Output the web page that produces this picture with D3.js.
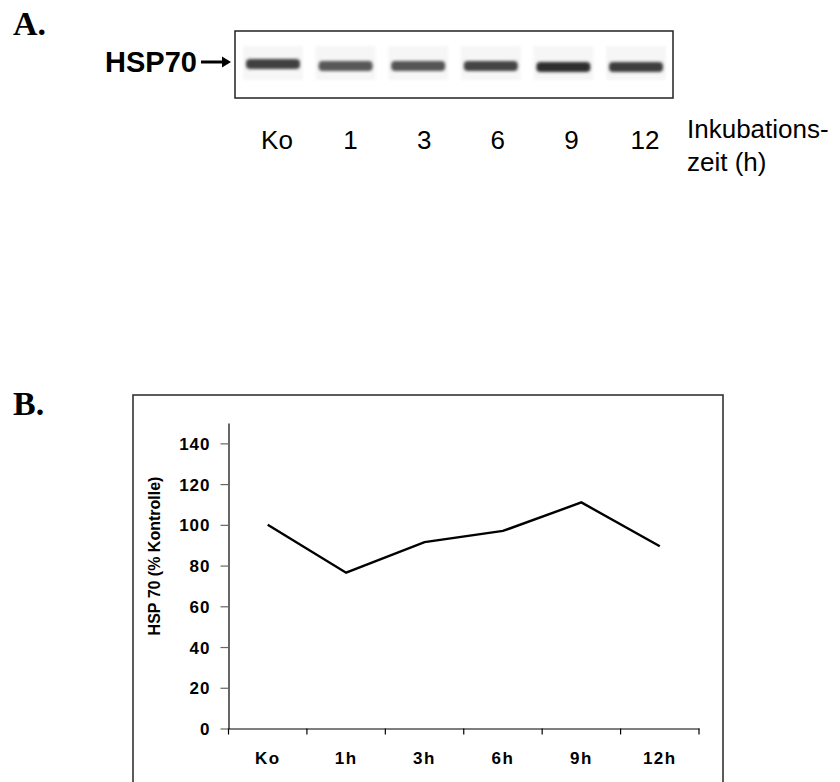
<!DOCTYPE html>
<html>
<head>
<meta charset="utf-8">
<script src="https://cdn.jsdelivr.net/npm/d3@7"></script>
<style>
  html, body { margin: 0; padding: 0; background: #fff; }
  svg { display: block; }
</style>
</head>
<body>
<svg id="chart" width="840" height="782"></svg>
<script>
// ---- Data ----
const blotLanes = ["Ko", "1", "3", "6", "9", "12"];
const blotBandIntensity = [0.80, 0.70, 0.72, 0.78, 0.88, 0.82];
const categories = ["Ko", "1h", "3h", "6h", "9h", "12h"];
const hspValues = [100, 76.5, 91.5, 97, 111, 89.5];
const yTicks = [0, 20, 40, 60, 80, 100, 120, 140];

const svg = d3.select("#chart");
const sans = "'Liberation Sans', Arial, sans-serif";
const serif = "'Liberation Serif', 'Times New Roman', serif";

// blur filter for bands
const defs = svg.append("defs");
const f = defs.append("filter").attr("id", "blur").attr("x", "-20%").attr("y", "-80%").attr("width", "140%").attr("height", "260%");
f.append("feGaussianBlur").attr("stdDeviation", "1.6 1.4");

// ---- Panel A ----
svg.append("text").attr("x", 13).attr("y", 35)
  .attr("font-family", serif).attr("font-weight", "bold").attr("font-size", 34)
  .text("A.");

svg.append("text").attr("x", 105).attr("y", 72)
  .attr("font-family", sans).attr("font-weight", "bold").attr("font-size", 29)
  .text("HSP70");

// arrow
svg.append("line").attr("x1", 201).attr("x2", 224).attr("y1", 62).attr("y2", 62)
  .attr("stroke", "#000").attr("stroke-width", 3);
svg.append("path").attr("d", "M222,56.5 L231,62 L222,67.5 Z").attr("fill", "#000");

// blot box
svg.append("rect").attr("x", 235).attr("y", 31).attr("width", 438).attr("height", 67)
  .attr("fill", "#fff").attr("stroke", "#222").attr("stroke-width", 1.5);

const bandX = d3.scalePoint().domain(blotLanes).range([273, 636]);
const darkness = d3.scaleLinear().domain([0, 1]).range(["#ffffff", "#111111"]);

// faint lane streaks
svg.append("g").selectAll("rect").data(blotLanes).join("rect")
  .attr("x", d => bandX(d) - 30).attr("y", 46).attr("width", 60).attr("height", 34)
  .attr("fill", "#f6f6f6").attr("filter", "url(#blur)");

svg.append("g").selectAll("rect").data(blotLanes).join("rect")
  .attr("x", d => bandX(d) - 27).attr("y", (d, i) => 60 + (i >= 4 ? 2 : (i === 0 ? -1 : 1)))
  .attr("width", 54).attr("height", 10).attr("rx", 4)
  .attr("fill", (d, i) => darkness(blotBandIntensity[i]))
  .attr("filter", "url(#blur)");

const laneLabelX = d3.scalePoint().domain(blotLanes).range([277, 645]);
svg.append("g").selectAll("text").data(blotLanes).join("text")
  .attr("x", d => laneLabelX(d)).attr("y", 149)
  .attr("text-anchor", "middle")
  .attr("font-family", sans).attr("font-size", 26)
  .text(d => d);

const inkText = svg.append("text").attr("font-family", sans).attr("font-size", 26);
inkText.append("tspan").attr("x", 687).attr("y", 138).text("Inkubations-");
inkText.append("tspan").attr("x", 687).attr("y", 171).text("zeit (h)");

// ---- Panel B ----
svg.append("text").attr("x", 13).attr("y", 415)
  .attr("font-family", serif).attr("font-weight", "bold").attr("font-size", 34)
  .text("B.");

svg.append("rect").attr("x", 133).attr("y", 395).attr("width", 590).attr("height", 420)
  .attr("fill", "none").attr("stroke", "#333").attr("stroke-width", 1.6);

const x = d3.scaleBand().domain(categories).range([228.5, 699]).paddingInner(0).paddingOuter(0);
const y = d3.scaleLinear().domain([0, 150]).range([728.5, 423]);

// y axis
const yAxis = svg.append("g").attr("transform", "translate(228.5,0)")
  .call(d3.axisLeft(y).tickValues(yTicks).tickSize(8).tickPadding(10).tickSizeOuter(0));
yAxis.select(".domain").attr("stroke", "#000").attr("stroke-width", 1.2);
yAxis.selectAll(".tick line").attr("stroke", "#666").attr("stroke-width", 1.2);
yAxis.selectAll(".tick text")
  .attr("font-family", sans).attr("font-weight", "bold").attr("font-size", 17)
  .attr("letter-spacing", "1px").attr("fill", "#000").attr("dy", "0.36em");

// x axis
const xAxis = svg.append("g").attr("transform", "translate(0,728.5)")
  .call(d3.axisBottom(x).tickSize(0).tickPadding(23));
xAxis.select(".domain").attr("stroke", "#000").attr("stroke-width", 1.2);
xAxis.selectAll(".tick text")
  .attr("font-family", sans).attr("font-weight", "bold").attr("font-size", 17)
  .attr("letter-spacing", "1.5px").attr("fill", "#000");
// category boundary ticks
const bounds = categories.map(c => x(c)).concat([x(categories[categories.length - 1]) + x.bandwidth()]);
svg.append("g").selectAll("line").data(bounds).join("line")
  .attr("x1", d => d).attr("x2", d => d).attr("y1", 728.5).attr("y2", 734.5)
  .attr("stroke", "#000").attr("stroke-width", 1.2);

// y title
svg.append("text")
  .attr("transform", "translate(160,556) rotate(-90)")
  .attr("text-anchor", "middle")
  .attr("font-family", sans).attr("font-weight", "bold").attr("font-size", 16)
  .text("HSP 70 (% Kontrolle)");

// line
const line = d3.line()
  .x((d, i) => x(categories[i]) + x.bandwidth() / 2)
  .y(d => y(d));
svg.append("path").datum(hspValues)
  .attr("d", line).attr("fill", "none").attr("stroke", "#000").attr("stroke-width", 2.4)
  .attr("stroke-linejoin", "miter");
</script>
</body>
</html>
